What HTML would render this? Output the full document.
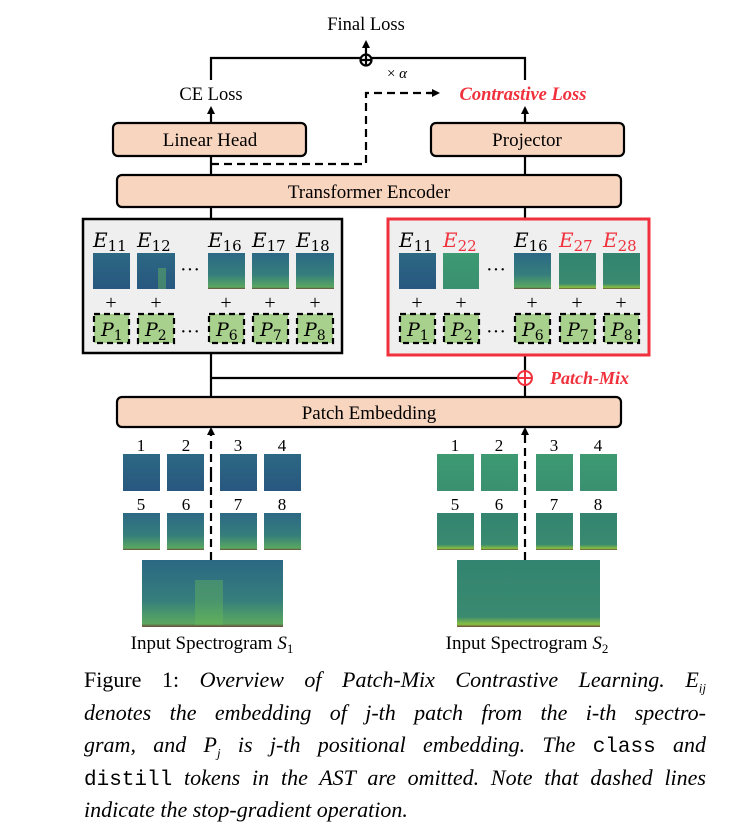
<!DOCTYPE html>
<html><head><meta charset="utf-8"><style>
body{margin:0;width:736px;height:836px;background:#fff;position:relative;overflow:hidden;font-family:"Liberation Serif",serif}
.cap{position:absolute;left:84px;width:622px;font-size:22px;text-align:justify;text-align-last:justify;white-space:nowrap;line-height:24px}
.cap i{font-style:italic}
.m{font-family:"Liberation Mono",monospace;font-style:normal;font-size:21px}
</style></head><body>
<svg width="736" height="660" style="position:absolute;left:0;top:0" font-family="Liberation Serif, serif">
<defs>
<linearGradient id="g1" x1="0" y1="0" x2="0" y2="1"><stop offset="0" stop-color="#2c6884"/><stop offset="1" stop-color="#28577f"/></linearGradient>
<linearGradient id="g1b" x1="0" y1="0" x2="0" y2="1"><stop offset="0" stop-color="#2c6884"/><stop offset="0.6" stop-color="#357e7c"/><stop offset="0.95" stop-color="#5aa860"/><stop offset="1" stop-color="#6a4a3a"/></linearGradient>
<linearGradient id="g2" x1="0" y1="0" x2="0" y2="1"><stop offset="0" stop-color="#3d9a72"/><stop offset="1" stop-color="#3a9070"/></linearGradient>
<linearGradient id="g2b" x1="0" y1="0" x2="0" y2="1"><stop offset="0" stop-color="#338470"/><stop offset="0.85" stop-color="#3a8a70"/><stop offset="0.96" stop-color="#8ac040"/><stop offset="1" stop-color="#6a4a3a"/></linearGradient>
<marker id="ar" markerWidth="8" markerHeight="8" refX="6" refY="4" orient="auto" markerUnits="userSpaceOnUse"><path d="M0,0 L8,4 L0,8 z" fill="#000"/></marker>
</defs>
<g font-size="18.5" text-anchor="middle" fill="#000">
<text x="366" y="30">Final Loss</text>
<text x="211" y="100">CE Loss</text>
<text x="523" y="100" fill="#f0303c" font-weight="bold" font-style="italic">Contrastive Loss</text>
<text x="397" y="78" font-size="15">× <tspan font-style="italic">α</tspan></text>
</g>
<g stroke="#000" stroke-width="2.2" fill="none">
<path d="M211 80 V58 H525 V80"/>
<path d="M366 58 V42" marker-end="url(#ar)"/>
<path d="M211 123 V108" marker-end="url(#ar)"/>
<path d="M525 123 V108" marker-end="url(#ar)"/>
<circle cx="366" cy="60" r="5.5" fill="#fff"/><path d="M360.5 60 H371.5 M366 54.5 V65.5"/>
<path d="M211 164 H366 V93 H434" stroke-dasharray="8,5"/>
<path d="M428 93 H438" marker-end="url(#ar)"/>
<path d="M211 155 V175 M525 155 V175 M211 207 V219 M525 207 V219 M211 353 V397 M525 355 V397 M211 378 H520"/>
<path d="M211 475 V430" stroke-dasharray="8,5"/><path d="M211 436 V429" marker-end="url(#ar)"/>
<path d="M525 560 V430" stroke-dasharray="8,5"/><path d="M525 436 V429" marker-end="url(#ar)"/>
</g>
<g stroke="#000" stroke-width="2.2" fill="#f8d5bf">
<rect x="113" y="123" width="193" height="33" rx="5"/>
<rect x="431" y="123" width="193" height="33" rx="5"/>
<rect x="117" y="175" width="504" height="32" rx="5"/>
<rect x="117" y="397" width="504" height="30" rx="5"/>
</g>
<g font-size="19" text-anchor="middle">
<text x="210" y="146">Linear Head</text>
<text x="527" y="146">Projector</text>
<text x="369" y="198">Transformer Encoder</text>
<text x="369" y="419">Patch Embedding</text>
</g>
<rect x="83" y="219" width="259" height="134" fill="#efefef" stroke="#000" stroke-width="2.5"/>
<rect x="388" y="219" width="261" height="136" fill="#efefef" stroke="#f0303c" stroke-width="3"/>
<g stroke="#f0303c" stroke-width="2" fill="#fff"><circle cx="525" cy="378" r="7"/><path d="M518 378 H532 M525 371 V385"/></g>
<text x="550" y="384" font-size="18" fill="#f0303c" font-weight="bold" font-style="italic">Patch-Mix</text>
<g font-size="20" font-style="italic" font-family="DejaVu Serif, serif">
<text x="93" y="247">E<tspan font-size="15" font-style="normal" dy="4">11</tspan></text>
<text x="137" y="247">E<tspan font-size="15" font-style="normal" dy="4">12</tspan></text>
<text x="208" y="247">E<tspan font-size="15" font-style="normal" dy="4">16</tspan></text>
<text x="252" y="247">E<tspan font-size="15" font-style="normal" dy="4">17</tspan></text>
<text x="296" y="247">E<tspan font-size="15" font-style="normal" dy="4">18</tspan></text>
<text x="399" y="247">E<tspan font-size="15" font-style="normal" dy="4">11</tspan></text>
<text x="443" y="247" fill="#f0303c">E<tspan font-size="15" font-style="normal" dy="4">22</tspan></text>
<text x="514" y="247">E<tspan font-size="15" font-style="normal" dy="4">16</tspan></text>
<text x="559" y="247" fill="#f0303c">E<tspan font-size="15" font-style="normal" dy="4">27</tspan></text>
<text x="603" y="247" fill="#f0303c">E<tspan font-size="15" font-style="normal" dy="4">28</tspan></text>
</g>
<g>
<rect x="93" y="253" width="37" height="36" fill="url(#g1)"/>
<rect x="137" y="253" width="38" height="36" fill="url(#g1)"/><rect x="158" y="268" width="8" height="21" fill="#5fb060" opacity=".5"/>
<rect x="208" y="253" width="37" height="36" fill="url(#g1b)"/>
<rect x="252" y="253" width="37" height="36" fill="url(#g1b)"/>
<rect x="296" y="253" width="38" height="36" fill="url(#g1b)"/>
<rect x="399" y="253" width="37" height="36" fill="url(#g1)"/>
<rect x="443" y="253" width="36" height="36" fill="url(#g2)"/>
<rect x="514" y="253" width="37" height="36" fill="url(#g1b)"/>
<rect x="559" y="253" width="37" height="36" fill="url(#g2b)"/>
<rect x="603" y="253" width="37" height="36" fill="url(#g2b)"/>
</g>
<g font-size="20" text-anchor="middle">
<text x="190" y="276">···</text><text x="496" y="276">···</text>
<text x="190" y="338">···</text><text x="496" y="338">···</text>
<text x="111" y="309">+</text><text x="156" y="309">+</text><text x="226" y="309">+</text><text x="270" y="309">+</text><text x="315" y="309">+</text>
<text x="417" y="309">+</text><text x="461" y="309">+</text><text x="532" y="309">+</text><text x="577" y="309">+</text><text x="621" y="309">+</text>
</g>
<g fill="#a9d18e" stroke="#000" stroke-width="2.2" stroke-dasharray="6,4">
<rect x="94" y="314" width="35" height="29"/><rect x="138" y="314" width="36" height="29"/><rect x="209" y="314" width="35" height="29"/><rect x="253" y="314" width="35" height="29"/><rect x="297" y="314" width="36" height="29"/>
<rect x="400" y="314" width="35" height="29"/><rect x="444" y="314" width="35" height="29"/><rect x="515" y="314" width="35" height="29"/><rect x="560" y="314" width="35" height="29"/><rect x="604" y="314" width="35" height="29"/>
</g>
<g font-size="19" font-style="italic" font-family="DejaVu Serif, serif">
<text x="101" y="336">P<tspan font-size="14" font-style="normal" dy="4">1</tspan></text>
<text x="145" y="336">P<tspan font-size="14" font-style="normal" dy="4">2</tspan></text>
<text x="216" y="336">P<tspan font-size="14" font-style="normal" dy="4">6</tspan></text>
<text x="260" y="336">P<tspan font-size="14" font-style="normal" dy="4">7</tspan></text>
<text x="304" y="336">P<tspan font-size="14" font-style="normal" dy="4">8</tspan></text>
<text x="407" y="336">P<tspan font-size="14" font-style="normal" dy="4">1</tspan></text>
<text x="451" y="336">P<tspan font-size="14" font-style="normal" dy="4">2</tspan></text>
<text x="522" y="336">P<tspan font-size="14" font-style="normal" dy="4">6</tspan></text>
<text x="567" y="336">P<tspan font-size="14" font-style="normal" dy="4">7</tspan></text>
<text x="611" y="336">P<tspan font-size="14" font-style="normal" dy="4">8</tspan></text>
</g>
<g font-size="17" text-anchor="middle">
<text x="141" y="451">1</text><text x="186" y="451">2</text><text x="238" y="451">3</text><text x="282" y="451">4</text>
<text x="141" y="510">5</text><text x="186" y="510">6</text><text x="238" y="510">7</text><text x="282" y="510">8</text>
<text x="455" y="451">1</text><text x="499" y="451">2</text><text x="554" y="451">3</text><text x="598" y="451">4</text>
<text x="455" y="510">5</text><text x="499" y="510">6</text><text x="554" y="510">7</text><text x="598" y="510">8</text>
</g>
<g>
<rect x="123" y="454" width="37" height="37" fill="url(#g1)"/><rect x="167" y="454" width="37" height="37" fill="url(#g1)"/><rect x="220" y="454" width="37" height="37" fill="url(#g1)"/><rect x="264" y="454" width="37" height="37" fill="url(#g1)"/>
<rect x="123" y="513" width="37" height="37" fill="url(#g1b)"/><rect x="167" y="513" width="37" height="37" fill="url(#g1b)"/><rect x="220" y="513" width="37" height="37" fill="url(#g1b)"/><rect x="264" y="513" width="37" height="37" fill="url(#g1b)"/>
<rect x="437" y="454" width="37" height="37" fill="url(#g2)"/><rect x="481" y="454" width="37" height="37" fill="url(#g2)"/><rect x="536" y="454" width="37" height="37" fill="url(#g2)"/><rect x="580" y="454" width="37" height="37" fill="url(#g2)"/>
<rect x="437" y="513" width="37" height="37" fill="url(#g2b)"/><rect x="481" y="513" width="37" height="37" fill="url(#g2b)"/><rect x="536" y="513" width="37" height="37" fill="url(#g2b)"/><rect x="580" y="513" width="37" height="37" fill="url(#g2b)"/>
<rect x="142" y="560" width="141" height="67" fill="url(#g1b)"/>
<rect x="195" y="580" width="28" height="45" fill="#6ab858" opacity=".4"/>
<rect x="457" y="560" width="143" height="67" fill="url(#g2b)"/>
</g>
<g stroke="#000" stroke-width="2.2" fill="none"><path d="M211 560 V475" stroke-dasharray="8,5"/></g>
<g font-size="19" text-anchor="middle">
<text x="212" y="649">Input Spectrogram <tspan font-style="italic">S</tspan><tspan font-size="13" dy="4">1</tspan></text>
<text x="527" y="649">Input Spectrogram <tspan font-style="italic">S</tspan><tspan font-size="13" dy="4">2</tspan></text>
</g>
</svg>
<div class="cap" style="top:668px">Figure 1: <i>Overview of Patch-Mix Contrastive Learning.</i> <i>E<sub style="font-size:13px">ij</sub></i></div>
<div class="cap" style="top:701px"><i>denotes the embedding of j-th patch from the i-th spectro-</i></div>
<div class="cap" style="top:733px"><i>gram, and P<sub style="font-size:13px">j</sub> is j-th positional embedding. The <span class="m">class</span> and</i></div>
<div class="cap" style="top:766px"><span class="m">distill</span> <i>tokens in the AST are omitted. Note that dashed lines</i></div>
<div class="cap" style="top:798px;text-align-last:left"><i>indicate the stop-gradient operation.</i></div>
</body></html>
